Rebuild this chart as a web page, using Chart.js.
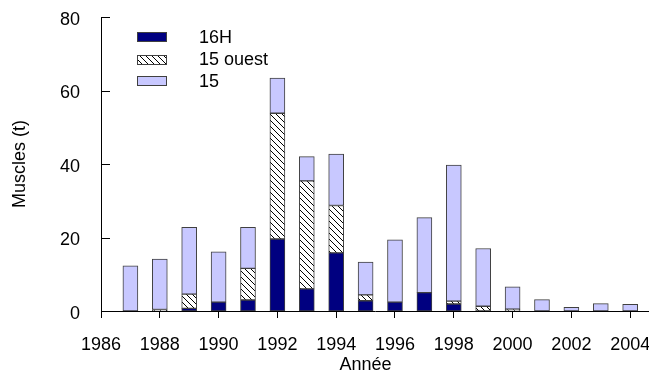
<!DOCTYPE html>
<html>
<head>
<meta charset="utf-8">
<script src="https://cdn.jsdelivr.net/npm/chart.js@4"></script>
<style>
  html, body { margin: 0; padding: 0; background: #fff; }
  #wrap { width: 649px; height: 372px; }
</style>
</head>
<body>
<div id="wrap"><canvas id="chart" width="649" height="372"></canvas></div>
<script>
const years = [1987, 1988, 1989, 1990, 1991, 1992, 1993, 1994, 1995, 1996, 1997, 1998, 1999, 2000, 2001, 2002, 2003, 2004];
const catch16H = [0, 0, 0.7, 2.4, 3.0, 19.6, 6.0, 15.8, 2.8, 2.4, 5.0, 1.9, 0, 0, 0, 0, 0, 0];
const catch15Ouest = [0, 0.4, 3.9, 0, 8.6, 34.2, 29.4, 12.9, 1.6, 0, 0, 0.8, 1.3, 0.5, 0, 0, 0, 0];
const catch15 = [12.3, 13.7, 18.2, 13.7, 11.2, 9.6, 6.6, 14.0, 8.9, 17.0, 20.4, 37.0, 15.7, 6.1, 3.1, 1.0, 2.0, 1.8];
const xTicks = [1986, 1988, 1990, 1992, 1994, 1996, 1998, 2000, 2002, 2004];
const yTicks = [0, 20, 40, 60, 80];
const seriesNames = ["16H", "15 ouest", "15"];

const FONT = "'Liberation Sans', Arial, sans-serif";

// hatch "\\\" black on white
function makeHatch() {
  const c = document.createElement("canvas");
  c.width = 6;
  c.height = 6;
  const g = c.getContext("2d");
  g.fillStyle = "#fff";
  g.fillRect(0, 0, 6, 6);
  g.strokeStyle = "#000";
  g.lineWidth = 1;
  g.beginPath();
  g.moveTo(-1, -1); g.lineTo(7, 7);
  g.moveTo(-1, 5); g.lineTo(1, 7);
  g.moveTo(5, -1); g.lineTo(7, 1);
  g.stroke();
  return g.createPattern(c, "repeat");
}
const hatch = makeHatch();

const fills = ["#000080", hatch, "#c8c8ff"];

function toPoints(values) {
  return years.map((y, i) => ({ x: y, y: values[i] > 0 ? values[i] : null }));
}

const extras = {
  id: "extras",
  afterDraw(chart) {
    const ctx = chart.ctx;
    const ys = chart.scales.y;
    const xs = chart.scales.x;
    const left = chart.chartArea.left;
    ctx.save();
    // inward y ticks
    ctx.strokeStyle = "#000";
    ctx.lineWidth = 1;
    yTicks.forEach((v) => {
      const py = Math.round(ys.getPixelForValue(v)) + 0.5;
      ctx.beginPath();
      ctx.moveTo(left, py);
      ctx.lineTo(left + 9, py);
      ctx.stroke();
    });
    // x title centred on the tick range
    const cx = (xs.getPixelForValue(1986) + xs.getPixelForValue(2004)) / 2;
    ctx.fillStyle = "#000";
    ctx.font = "18px " + FONT;
    ctx.textAlign = "center";
    ctx.textBaseline = "middle";
    ctx.fillText("Année", cx, 365);
    // legend
    const boxes = [37, 60, 81];
    const texts = [38, 60, 82];
    seriesNames.forEach((name, i) => {
      ctx.fillStyle = fills[i];
      ctx.fillRect(137, boxes[i] - 5, 30, 10);
      ctx.strokeStyle = "#404040";
      ctx.strokeRect(137.5, boxes[i] - 4.5, 29, 9);
      ctx.fillStyle = "#000";
      ctx.textAlign = "left";
      ctx.fillText(name, 199, texts[i]);
    });
    ctx.restore();
  },
};

new Chart(document.getElementById("chart"), {
  type: "bar",
  data: {
    datasets: [
      { label: seriesNames[0], data: toPoints(catch16H), backgroundColor: fills[0] },
      { label: seriesNames[1], data: toPoints(catch15Ouest), backgroundColor: fills[1] },
      { label: seriesNames[2], data: toPoints(catch15), backgroundColor: fills[2] },
    ],
  },
  options: {
    responsive: false,
    animation: false,
    layout: { padding: { top: 17, right: 0, left: 0, bottom: 0 } },
    datasets: {
      bar: { barThickness: 15, borderWidth: 1, borderColor: "#404040", borderSkipped: false },
    },
    plugins: { legend: { display: false }, tooltip: { enabled: false } },
    scales: {
      x: {
        type: "linear",
        stacked: true,
        offset: false,
        min: 1986,
        max: 2004.64,
        afterBuildTicks: (s) => { s.ticks = xTicks.map((v) => ({ value: v })); },
        afterFit: (s) => { s.height = 61; s.paddingLeft = 0; s.paddingRight = 0; },
        grid: { drawOnChartArea: false, tickLength: 7, color: "#000", offset: false },
        border: { color: "#000", width: 1 },
        ticks: {
          color: "#000",
          font: { family: FONT, size: 18 },
          padding: 16,
          maxRotation: 0,
          autoSkip: false,
          callback: (v) => String(v),
        },
      },
      y: {
        stacked: true,
        min: 0,
        max: 80,
        afterBuildTicks: (s) => { s.ticks = yTicks.map((v) => ({ value: v })); },
        afterFit: (s) => { s.width = 101; s.paddingTop = 0; s.paddingBottom = 0; },
        grid: { display: false },
        border: { color: "#000", width: 1 },
        ticks: { color: "#000", font: { family: FONT, size: 18 }, padding: 13, labelOffset: 3 },
        title: {
          display: true,
          text: "Muscles (t)",
          color: "#000",
          font: { family: FONT, size: 18 },
          padding: { top: 9, bottom: 0 },
        },
      },
    },
  },
  plugins: [extras],
});
</script>
</body>
</html>
